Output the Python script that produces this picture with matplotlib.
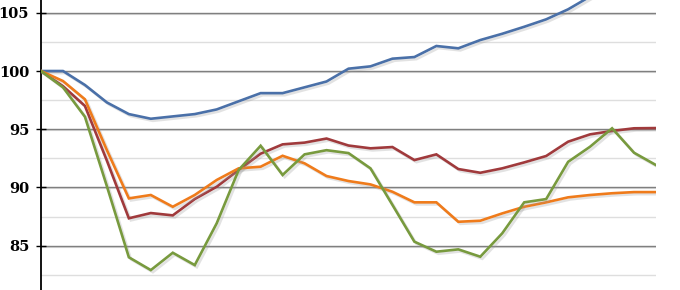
import matplotlib
matplotlib.use("Agg")
import matplotlib.pyplot as plt
import matplotlib.patheffects as pe
import numpy as np

periods = list(range(29))
blue = [100, 100, 98.8, 97.3, 96.3, 95.9, 96.1, 96.3, 96.7, 97.4, 98.1, 98.1, 98.6, 99.1,
        100.2, 100.4, 101.06, 101.2, 102.15, 101.95, 102.66, 103.2, 103.8, 104.44, 105.3,
        106.4, 107.4, 108.4, 109.4]
red = [100, 98.7, 97.0, 92.3, 87.35, 87.8, 87.6, 89.0, 90.06, 91.5, 92.9, 93.7, 93.85, 94.2,
       93.6, 93.36, 93.47, 92.35, 92.84, 91.58, 91.26, 91.64, 92.15, 92.7, 93.93, 94.56,
       94.85, 95.08, 95.1]
orange = [100, 99.14, 97.57, 93.2, 89.06, 89.35, 88.34, 89.35, 90.64, 91.64, 91.78, 92.72,
          92.07, 90.98, 90.55, 90.26, 89.63, 88.72, 88.72, 87.05, 87.14, 87.77, 88.34, 88.72,
          89.15, 89.35, 89.5, 89.6, 89.6]
green = [100, 98.6, 96.07, 90.1, 84.0, 82.9, 84.39, 83.33, 86.92, 91.5, 93.58, 91.07, 92.84,
         93.2, 92.95, 91.64, 88.5, 85.34, 84.48, 84.68, 84.05, 86.06, 88.72, 89.0, 92.2, 93.5,
         95.08, 92.98, 91.92]
yticks = [85, 90, 95, 100, 105]
ytick_labels = ["85", "90", "95", "100", "105"]

W, H = 680, 290
fig = plt.figure(figsize=(W / 100, H / 100), dpi=100)
ax = fig.add_axes([41 / W, 0, (656 - 41) / W, 1])
ax.set_xlim(0, 28)
ax.set_ylim(81.19, 106.10)

# gridlines
for v in np.arange(82.5, 106, 5):
    ax.axhline(v, color="#dedede", lw=1.0, zorder=1)
for v in yticks:
    ax.axhline(v - 0.09, color="#dadada", lw=0.8, zorder=1)
    ax.axhline(v, color="#7f7f7f", lw=1.0, zorder=1.5)

shadow = [pe.SimpleLineShadow(offset=(1.5, -1.5), shadow_color="#999999", alpha=0.28),
          pe.Normal()]
series = [(blue, "#4a70a8"), (red, "#a03a3c"), (orange, "#ef7b1b"), (green, "#789a3e")]
for vals, col in series:
    ax.plot(periods, vals, color=col, lw=1.9, zorder=3, path_effects=shadow,
            solid_joinstyle="miter")

for s in ["top", "right", "bottom"]:
    ax.spines[s].set_visible(False)
ax.spines["left"].set_color("black")
ax.spines["left"].set_linewidth(1.3)
ax.set_xticks([])
ax.set_yticks(yticks)
ax.set_yticklabels(ytick_labels, fontfamily="DejaVu Serif", fontweight="bold", fontsize=10.5)
ax.tick_params(axis="y", direction="inout", length=7, width=1.0, pad=5, color="black")

fig.savefig("out.png", dpi=100)
